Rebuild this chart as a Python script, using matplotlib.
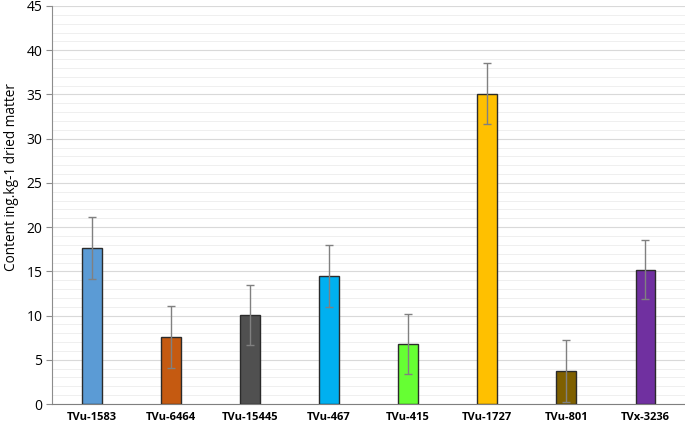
import matplotlib
matplotlib.use("Agg")
import matplotlib.pyplot as plt
from matplotlib.ticker import MultipleLocator

categories = ["TVu-1583", "TVu-6464", "TVu-15445", "TVu-467", "TVu-415", "TVu-1727", "TVu-801", "TVx-3236"]
values = [17.6, 7.6, 10.1, 14.5, 6.8, 35.1, 3.7, 15.2]
errors = [3.5, 3.5, 3.4, 3.5, 3.4, 3.45, 3.5, 3.35]
colors = ["#5B9BD5", "#C55A11", "#505050", "#00B0F0", "#66FF33", "#FFC000", "#7F6000", "#7030A0"]

plt.rcParams['font.family'] = ['Open Sans', 'DejaVu Sans']

fig = plt.figure(figsize=(6.85, 4.28), dpi=100)
ax = fig.add_axes([0.076, 0.056, 0.924, 0.930])

x = list(range(len(categories)))
ax.bar(x, values, width=0.25, color=colors, edgecolor="#2b2b2b", linewidth=1.0, zorder=3,
       yerr=errors, error_kw=dict(ecolor="#808080", elinewidth=1.0, capsize=3, capthick=1.0, zorder=4))

ax.set_xlim(-0.5, len(categories) - 0.5)
ax.set_ylim(0, 45)
ax.yaxis.set_major_locator(MultipleLocator(5))
ax.yaxis.set_minor_locator(MultipleLocator(1))
ax.grid(which="major", axis="y", color="#D9D9D9", linewidth=0.8, zorder=0)
ax.grid(which="minor", axis="y", color="#EFEFEF", linewidth=0.7, zorder=0)
ax.set_axisbelow(True)

for s in ["top", "right"]:
    ax.spines[s].set_visible(False)
ax.spines["left"].set_color("#8C8C8C")
ax.spines["bottom"].set_color("#7F7F7F")
ax.tick_params(axis="y", which="major", length=4, color="#8C8C8C", labelsize=10, pad=3)
ax.tick_params(axis="y", which="minor", length=0)
ax.tick_params(axis="x", length=0, pad=6)
ax.set_xticks(x)
ax.set_xticklabels(categories, fontsize=8, fontweight="bold")
fig.text(0.017, 1 - 177 / 428, "Content ing.kg-1 dried matter", rotation=90,
         fontsize=9.8, ha="center", va="center")

fig.savefig("out.png", dpi=100)
